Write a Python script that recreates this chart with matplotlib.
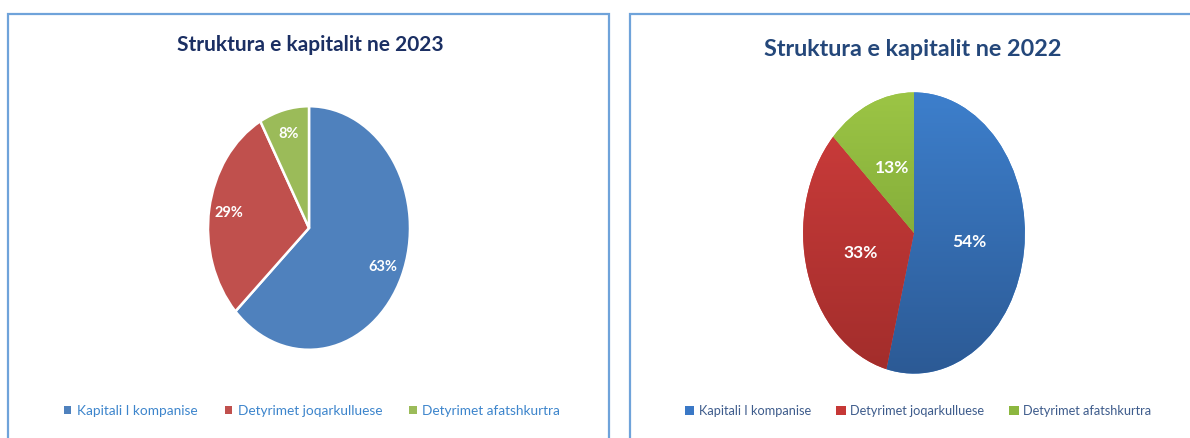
import numpy as np
import matplotlib
matplotlib.use("Agg")
import matplotlib.pyplot as plt
from matplotlib.patches import Rectangle, Patch
from matplotlib.colors import LinearSegmentedColormap

categories = ["Kapitali I kompanise", "Detyrimet joqarkulluese", "Detyrimet afatshkurtra"]
values_2023 = [63, 29, 8]
values_2022 = [54, 33, 13]
title_2023 = "Struktura e kapitalit ne 2023"
title_2022 = "Struktura e kapitalit ne 2022"

colors_2023 = ["#4F81BD", "#C0504D", "#9BBB59"]
grad_top_2022 = ["#3D7FCC", "#CF3D3C", "#9CC545"]
grad_bot_2022 = ["#2C5A95", "#A22D2B", "#6F9830"]

W, H = 1190, 438
fig = plt.figure(figsize=(W / 100, H / 100), dpi=100)
plt.rcParams['font.family'] = ['Lato', 'DejaVu Sans']


def fx(px):
    return px / W


def fy(py):
    return 1 - py / H


# panel borders
for (x0, x1) in [(8, 609), (630, 1200)]:
    r = Rectangle((fx(x0), fy(460)), fx(x1 - x0), (460 - 14) / H,
                  transform=fig.transFigure, fill=False,
                  edgecolor="#6FA3DA", linewidth=1.6, clip_on=False)
    fig.add_artist(r)


def make_ax(cx, cy, rx, ry):
    return fig.add_axes([fx(cx - rx), fy(cy + ry), fx(2 * rx), 2 * ry / H])


# ---------- 2023 ----------
ax1 = make_ax(309, 228, 102, 123)
w1, _, t1 = ax1.pie(values_2023, colors=colors_2023, startangle=90, counterclock=False,
                    autopct=lambda p: f"{p:.0f}%", pctdistance=0.8,
                    wedgeprops=dict(edgecolor="white", linewidth=1.8),
                    textprops=dict(color="white", fontsize=10.5, fontweight="bold"))
ax1.set_aspect("auto")
ax1.set_xlim(-1.01, 1.01)
ax1.set_ylim(-1.01, 1.01)
ax1.axis("off")

fig.text(fx(310), fy(45), title_2023, ha="center", va="center",
         fontsize=15, fontweight="bold", color="#1B2F63")

h1 = [Patch(facecolor=c, edgecolor="none") for c in colors_2023]
fig.legend(h1, categories, loc="center", bbox_to_anchor=(fx(312), fy(411)), ncol=3,
           frameon=False, fontsize=9.8, labelcolor="#3D85CC",
           handlelength=0.55, handleheight=0.55, handletextpad=0.4,
           columnspacing=2.0)

# ---------- 2022 ----------
ax2 = make_ax(914, 233, 112, 142)
w2, _, t2 = ax2.pie(values_2022, colors=grad_top_2022, startangle=90, counterclock=False,
                    autopct=lambda p: f"{p:.0f}%", pctdistance=0.5,
                    wedgeprops=dict(edgecolor="none", linewidth=0),
                    textprops=dict(color="white", fontsize=12.5, fontweight="bold"))
for w, ct, cb in zip(w2, grad_top_2022, grad_bot_2022):
    cmap = LinearSegmentedColormap.from_list("g", [cb, ct])
    grad = np.linspace(1, 0, 256).reshape(-1, 1)
    im = ax2.imshow(grad, cmap=cmap, extent=(-1, 1, -1, 1), aspect="auto",
                    origin="upper", zorder=w.get_zorder() + 0.1)
    im.set_clip_path(w)
for t in t2:
    t.set_zorder(5)
ax2.set_aspect("auto")
ax2.set_xlim(-1.01, 1.01)
ax2.set_ylim(-1.01, 1.01)
ax2.axis("off")

fig.text(fx(913), fy(50), title_2022, ha="center", va="center",
         fontsize=16.8, fontweight="bold", color="#24477A")

h2 = [Patch(facecolor=c, edgecolor="none") for c in ["#3A78C6", "#C63836", "#8CB73F"]]
fig.legend(h2, categories, loc="center", bbox_to_anchor=(fx(918), fy(411)), ncol=3,
           frameon=False, fontsize=9.2, labelcolor="#3E5C8C",
           handlelength=0.75, handleheight=0.75, handletextpad=0.35,
           columnspacing=1.95)

fig.savefig("out.png", dpi=100)
